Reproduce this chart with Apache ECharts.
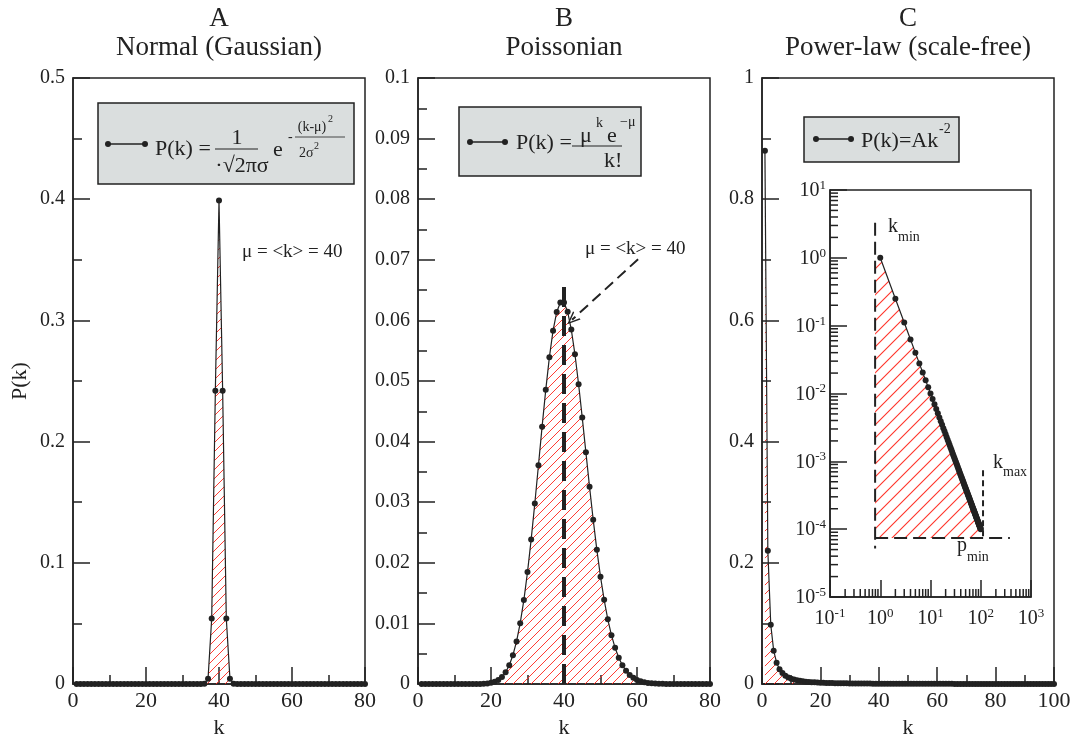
<!DOCTYPE html>
<html><head><meta charset="utf-8">
<script src="https://cdn.jsdelivr.net/npm/echarts@6/dist/echarts.min.js"></script>
<style>html,body{margin:0;padding:0;background:#fff}#c{width:1077px;height:740px}</style>
</head><body><div id="c"></div><script>
// ---------------- DATA ----------------
// Panel A: Normal distribution, k = 1..80
const gaussP = [
  0,0,0,0,0,0,0,0,0,0,
  0,0,0,0,0,0,0,0,0,0,
  0,0,0,0,0,0,0,0,0,0,
  0,0,0,0,0,0.000134,0.00443,0.054,0.242,0.399,
  0.242,0.054,0.00443,0.000134,0,0,0,0,0,0,
  0,0,0,0,0,0,0,0,0,0,
  0,0,0,0,0,0,0,0,0,0,
  0,0,0,0,0,0,0,0,0,0
];
// Panel B: Poisson distribution (mu = 40), k = 1..80
const poissonP = [
  0,0,0,0,0,0,0,0,0,0,
  0,0,0.0000005,0.0000013,0.0000035,0.0000087,0.0000206,0.0000457,0.0000961,0.000192,
  0.000366,0.000665,0.001156,0.001927,0.003084,0.004744,0.007028,0.01004,0.013849,0.018465,
  0.023826,0.029783,0.0361,0.042471,0.048538,0.053931,0.058304,0.061373,0.062947,0.062947,
  0.061412,0.058487,0.054406,0.04946,0.043964,0.03823,0.032536,0.027113,0.022133,0.017707,
  0.013888,0.010683,0.008063,0.005972,0.004344,0.003103,0.002177,0.001501,0.001018,0.000679,
  0.000445,0.000287,0.000182,0.000114,0.0000701,0.0000425,0.0000254,0.0000149,0.0000087,0.000005,
  0.0000028,0.0000016,0.0000009,0.0000005,0.0000003,0,0,0,0,0
];
// Panel C: power law, k = 1..100
const powerP = [
  0.88,0.22,0.0978,0.055,0.0352,0.0244,0.018,0.0138,0.0109,0.0088,
  0.00727,0.00611,0.00521,0.00449,0.00391,0.00344,0.00304,0.00272,0.00244,0.0022,
  0.002,0.00182,0.00166,0.00153,0.00141,0.0013,0.00121,0.00112,0.00105,0.00098,
  0.00092,0.00086,0.00081,0.00076,0.00072,0.00068,0.00064,0.00061,0.00058,0.00055,
  0.00052,0.0005,0.00048,0.00045,0.00043,0.00042,0.0004,0.00038,0.00037,0.00035,
  0.00034,0.00033,0.00031,0.0003,0.00029,0.00028,0.00027,0.00026,0.00025,0.00024,
  0.00024,0.00023,0.00022,0.00021,0.00021,0.0002,0.0002,0.00019,0.00018,0.00018,
  0.00017,0.00017,0.00017,0.00016,0.00016,0.00015,0.00015,0.00014,0.00014,0.00014,
  0.00013,0.00013,0.00013,0.00012,0.00012,0.00012,0.00012,0.00011,0.00011,0.00011,
  0.00011,0.0001,0.0001,0.0001,0.0001,0.0001,0.00009,0.00009,0.00009,0.00009
];
// Inset (log-log): P(k) = k^-2, k = 1..100
const insetP = [
  1,0.25,0.1111,0.0625,0.04,0.02778,0.02041,0.01563,0.01235,0.01,
  0.008264,0.006944,0.005917,0.005102,0.004444,0.003906,0.00346,0.003086,0.00277,0.0025,
  0.002268,0.002066,0.00189,0.001736,0.0016,0.001479,0.001372,0.001276,0.001189,0.001111,
  0.001041,0.0009766,0.0009183,0.000865,0.0008163,0.0007716,0.0007305,0.0006925,0.0006575,0.000625,
  0.0005949,0.0005669,0.0005408,0.0005165,0.0004938,0.0004726,0.0004527,0.000434,0.0004165,0.0004,
  0.0003845,0.0003698,0.000356,0.0003429,0.0003306,0.0003189,0.0003078,0.0002973,0.0002873,0.0002778,
  0.0002687,0.0002601,0.000252,0.0002441,0.0002367,0.0002296,0.0002228,0.0002163,0.00021,0.0002041,
  0.0001984,0.0001929,0.0001877,0.0001826,0.0001778,0.0001731,0.0001687,0.0001644,0.0001602,0.0001563,
  0.0001524,0.0001487,0.0001452,0.0001417,0.0001384,0.0001352,0.0001321,0.0001291,0.0001262,0.0001235,
  0.0001208,0.0001181,0.0001156,0.0001132,0.0001108,0.0001085,0.0001063,0.0001041,0.000102,0.0001
];
// tick labels
const yTicksA = ['0','0.1','0.2','0.3','0.4','0.5'];
const yTicksB = ['0','0.01','0.02','0.03','0.04','0.05','0.06','0.07','0.08','0.09','0.1'];
const yTicksC = ['0','0.2','0.4','0.6','0.8','1'];
const xTicksAB = ['0','20','40','60','80'];
const xTicksC = ['0','20','40','60','80','100'];
const insetXExp = ['-1','0','1','2','3'];
const insetYExp = ['-5','-4','-3','-2','-1','0','1'];
const insetMinorX = [0.2,0.3,0.4,0.5,0.6,0.7,0.8,0.9,2,3,4,5,6,7,8,9,20,30,40,50,60,70,80,90,200,300,400,500,600,700,800,900];
const insetMinorY = [0.00002,0.00003,0.00004,0.00005,0.00006,0.00007,0.00008,0.00009,
  0.0002,0.0003,0.0004,0.0005,0.0006,0.0007,0.0008,0.0009,
  0.002,0.003,0.004,0.005,0.006,0.007,0.008,0.009,
  0.02,0.03,0.04,0.05,0.06,0.07,0.08,0.09,
  0.2,0.3,0.4,0.5,0.6,0.7,0.8,0.9,2,3,4,5,6,7,8,9];
// annotations
const meanLineB = [[40,0],[40,0.0667]];
const arrowB = [[60.3,0.0701],[42.2,0.0601]];
const kMinLine = [[0.79,3.3],[0.79,0.000052]];
const pMinLine = [[0.79,0.000074],[380,0.000074]];
const kMaxLine = [[111,0.00074],[111,0.000074]];

// ---------------- BUILD ----------------
const kA = gaussP.map((_, i) => i + 1);
const kC = powerP.map((_, i) => i + 1);
const pairs = (ks, ps) => ps.map((p, i) => [ks[i], p]);
const gaussData = pairs(kA, gaussP);
const poissonData = pairs(kA, poissonP);
const powerData = pairs(kC, powerP);
const insetData = pairs(kC, insetP);
const insetPoly = [[kMinLine[0][0], 1]].concat(insetData, [[100, pMinLine[0][1]], [kMinLine[0][0], pMinLine[0][1]]]);

function hatch(step, color, lw) {
  const c = document.createElement('canvas');
  c.width = step; c.height = step;
  const g = c.getContext('2d');
  g.strokeStyle = color; g.lineWidth = lw;
  g.beginPath();
  g.moveTo(-1, step + 1); g.lineTo(step + 1, -1);
  g.moveTo(-2, 2); g.lineTo(2, -2);
  g.moveTo(step - 2, step + 2); g.lineTo(step + 2, step - 2);
  g.stroke();
  return {image: c, repeat: 'repeat'};
}
const hatchMain = hatch(9, 'rgba(255,40,30,0.9)', 1);
const hatchInset = hatch(13, 'rgba(255,40,30,0.95)', 1.1);

const FONT = '"Liberation Serif","Times New Roman",serif';
const INK = '#222';
const grids = [
  {left:73, top:78, width:292, height:606},
  {left:418, top:78, width:292, height:606},
  {left:762, top:78, width:292, height:606},
  {left:830, top:190, width:201, height:407}
].map(g => Object.assign({show:true, borderColor:INK, borderWidth:1.5, backgroundColor:'transparent',
  containLabel:false, outerBoundsMode:'none'}, g));
grids[3].backgroundColor = '#fff';

function xMain(gi, max, labels, withName) {
  return {
    type:'value', gridIndex:gi, min:0, max:max, interval:20,
    axisLine:{show:true, lineStyle:{color:INK, width:1.5}},
    axisTick:{show:true, inside:true, length:17, lineStyle:{color:INK, width:1.5}},
    minorTick:{show:true, splitNumber:2, length:9, lineStyle:{color:INK, width:1.5}},
    splitLine:{show:false},
    axisLabel:{margin:6, color:INK, fontFamily:FONT, fontSize:22,
      formatter: v => labels[Math.round(v / 20)]},
    name: withName ? 'k' : '', nameLocation:'middle', nameGap:33,
    nameTextStyle:{color:INK, fontFamily:FONT, fontSize:22}
  };
}
function yMain(gi, max, step, labels, name) {
  return {
    type:'value', gridIndex:gi, min:0, max:max, interval:step,
    axisLine:{show:true, lineStyle:{color:INK, width:1.5}},
    axisTick:{show:true, inside:true, length:17, lineStyle:{color:INK, width:1.5}},
    minorTick:{show:true, splitNumber:2, length:9, lineStyle:{color:INK, width:1.5}},
    splitLine:{show:false},
    axisLabel:{margin:8, color:INK, fontFamily:FONT, fontSize:20,
      formatter: v => labels[Math.round(v / step)]},
    name: name || '', nameLocation:'middle', nameGap:42, nameRotate:90,
    nameTextStyle:{color:INK, fontFamily:FONT, fontSize:22}
  };
}
const richLog = {
  b:{fontFamily:FONT, fontSize:20, color:INK, lineHeight:22, verticalAlign:'bottom'},
  s:{fontFamily:FONT, fontSize:13, color:INK, lineHeight:12, verticalAlign:'top'}
};
const xInset = {
  type:'log', logBase:10, gridIndex:3, min:0.1, max:1000, splitNumber:4,
  axisLine:{show:true, lineStyle:{color:INK, width:1.5}},
  axisTick:{show:true, inside:true, length:17, lineStyle:{color:INK, width:1.5}},
  splitLine:{show:false}, minorTick:{show:false},
  axisLabel:{margin:10, rich:richLog,
    formatter: v => '{b|10}{s|' + insetXExp[Math.round(Math.log10(v)) + 1] + '}'}
};
const yInset = {
  type:'log', logBase:10, gridIndex:3, min:0.00001, max:10, splitNumber:6,
  axisLine:{show:true, lineStyle:{color:INK, width:1.5}},
  axisTick:{show:true, inside:true, length:17, lineStyle:{color:INK, width:1.5}},
  splitLine:{show:false}, minorTick:{show:false},
  axisLabel:{margin:4, rich:richLog,
    formatter: v => '{b|10}{s|' + insetYExp[Math.round(Math.log10(v)) + 5] + '}'}
};

function dataSeries(xi, data, extra) {
  return Object.assign({
    type:'line', xAxisIndex:xi, yAxisIndex:xi, data:data,
    symbol:'circle', symbolSize:6, showSymbol:true,
    itemStyle:{color:INK}, lineStyle:{color:INK, width:1.2},
    areaStyle:{color:hatchMain, opacity:1}, z:3, silent:true
  }, extra || {});
}
function dashed(xi, data, width, dash, z) {
  return {type:'line', xAxisIndex:xi, yAxisIndex:xi, data:data, symbol:'none',
    lineStyle:{color:INK, width:width, type:dash}, z:z || 4, silent:true};
}
const chevron = 'path://M0,10 L5,0 L10,10 L8.6,10 L5,2.6 L1.4,10 Z';

const series = [
  dataSeries(0, gaussData),
  dataSeries(1, poissonData, {
    markLine:{silent:true, symbol:['none', chevron], symbolSize:[11,13],
      lineStyle:{color:INK, width:2, type:[11,6]}, label:{show:false},
      data:[[{coord:arrowB[0]}, {coord:arrowB[1]}]]}
  }),
  dashed(1, meanLineB, 4, [20,9], 5),
  dataSeries(2, powerData),
  {type:'custom', xAxisIndex:3, yAxisIndex:3, data:[[1, 0.001]], silent:true, z:2,
    renderItem:(params, api) => ({type:'polygon',
      shape:{points: insetPoly.map(p => api.coord(p))},
      style:{fill:hatchInset, stroke:null}})},
  dashed(3, kMinLine, 2, [13,6]),
  dashed(3, pMinLine, 2, [13,6]),
  dashed(3, kMaxLine, 2, [6,4]),
  {type:'line', xAxisIndex:3, yAxisIndex:3, data:insetData, symbol:'circle', symbolSize:6,
    itemStyle:{color:INK}, lineStyle:{color:INK, width:1.2}, z:5, silent:true},
  {type:'custom', xAxisIndex:3, yAxisIndex:3, data:insetMinorX.map(v => [v, 0.00001]), silent:true, z:6,
    renderItem:(params, api) => { const p = api.coord([api.value(0), api.value(1)]);
      return {type:'line', shape:{x1:p[0], y1:p[1], x2:p[0], y2:p[1]-8}, style:{stroke:INK, lineWidth:1.5}}; }},
  {type:'custom', xAxisIndex:3, yAxisIndex:3, data:insetMinorY.map(v => [0.1, v]), silent:true, z:6,
    renderItem:(params, api) => { const p = api.coord([api.value(0), api.value(1)]);
      return {type:'line', shape:{x1:p[0], y1:p[1], x2:p[0]+8, y2:p[1]}, style:{stroke:INK, lineWidth:1.5}}; }}
];

// ---------------- TEXT / LEGEND GRAPHICS ----------------
function T(text, x, y, size, align) {
  return {type:'text', x:x, y:y, z:20, silent:true,
    style:{text:text, font: size + 'px ' + FONT, fill:INK, align:align || 'left', verticalAlign:'middle'}};
}
function L(x1, y1, x2, y2, w) {
  return {type:'line', z:20, silent:true, shape:{x1, y1, x2, y2}, style:{stroke:INK, lineWidth:w || 1}};
}
function C(x, y) {
  return {type:'circle', z:21, silent:true, shape:{cx:x, cy:y, r:3}, style:{fill:INK}};
}
function BOX(x, y, w, h) {
  return {type:'rect', z:19, silent:true, shape:{x, y, width:w, height:h}, style:{fill:'#dadede', stroke:INK, lineWidth:1.5}};
}
const graphics = [
  T('A', 219, 19, 27, 'center'), T('Normal (Gaussian)', 219, 48, 27, 'center'),
  T('B', 564, 19, 27, 'center'), T('Poissonian', 564, 48, 27, 'center'),
  T('C', 908, 19, 27, 'center'), T('Power-law (scale-free)', 908, 48, 27, 'center'),
  // legend A
  BOX(98, 103, 256, 81), L(108, 144, 145, 144, 1.5), C(108, 144), C(145, 144),
  T('P(k) =', 155, 149, 22), T('1', 237, 138, 22, 'center'), L(215, 149, 258, 149, 1.2),
  T('·√2πσ', 242, 166, 22, 'center'), T('e', 273, 150, 22),
  T('-', 288, 137, 14), T('(k-μ)', 312, 127, 14, 'center'), T('2', 328, 119, 10),
  L(295, 137, 345, 137, 0.8), T('2σ', 299, 153, 14), T('2', 314, 146, 10),
  // legend B
  BOX(459, 107, 182, 69), L(470, 142, 505, 142, 1.5), C(470, 142), C(505, 142),
  T('P(k) =', 516, 143, 22), L(572, 146, 622, 146, 1.2),
  T('μ', 580, 136, 22), T('k', 596, 123, 14), T('e', 607, 136, 22), T('−μ', 620, 122, 14),
  T('k!', 604, 161, 22),
  // legend C
  BOX(804, 117, 155, 45), L(816, 139, 851, 139, 1.5), C(816, 139), C(851, 139),
  T('P(k)=Ak', 861, 141, 22), T('-2', 939, 129, 14),
  // annotations
  T('μ = <k> = 40', 242, 252, 19), T('μ = <k> = 40', 585, 249, 19),
  T('k', 888, 227, 20), T('min', 898, 237, 14),
  T('k', 993, 463, 20), T('max', 1003, 472, 14),
  T('p', 957, 546, 20), T('min', 967, 557, 14)
];

const chart = echarts.init(document.getElementById('c'), null, {renderer:'canvas'});
chart.setOption({
  animation:false,
  backgroundColor:'#fff',
  grid: grids,
  xAxis: [xMain(0, 80, xTicksAB, true), xMain(1, 80, xTicksAB, true), xMain(2, 100, xTicksC, true), xInset],
  yAxis: [yMain(0, 0.5, 0.1, yTicksA, 'P(k)'), yMain(1, 0.1, 0.01, yTicksB), yMain(2, 1, 0.2, yTicksC), yInset],
  series: series,
  graphic: {elements: graphics}
});
</script></body></html>
